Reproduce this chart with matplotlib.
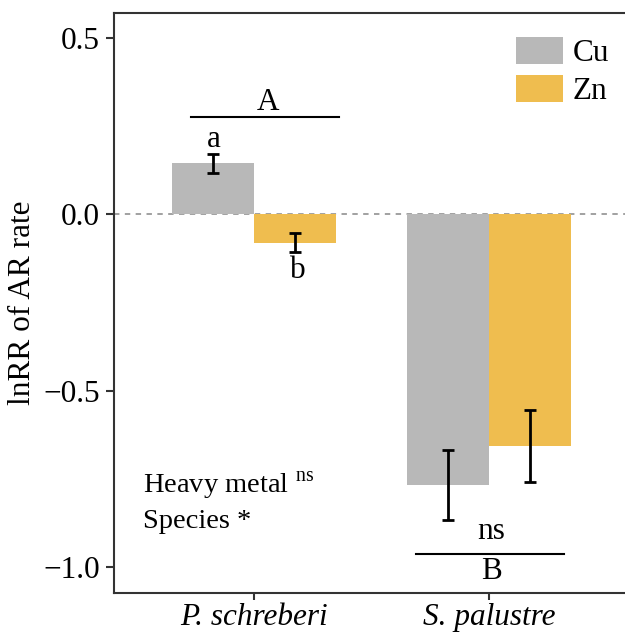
import matplotlib
matplotlib.use("Agg")
import matplotlib.pyplot as plt
import numpy as np

plt.rcParams['font.family'] = ['Liberation Serif', 'DejaVu Serif']
plt.rcParams['mathtext.fontset'] = 'custom'
plt.rcParams['mathtext.rm'] = 'Liberation Serif'
plt.rcParams['axes.unicode_minus'] = True

especies = ['P. schreberi', 'S. palustre']
metales = ['Cu', 'Zn']
media_cu = [0.145, -0.768]
error_cu = [0.027, 0.100]
media_zn = [-0.080, -0.657]
error_zn = [0.028, 0.103]
colores = {'Cu': '#b8b8b8', 'Zn': '#efbd4f'}

ancho = 0.35
x = np.arange(1, len(especies) + 1)
tam = 22.5

fig = plt.figure(figsize=(6.25, 6.34), dpi=100)
ax = fig.add_axes([114 / 625, 41 / 634, 515 / 625, 580 / 634])

ax.axhline(0, color='#9a9a9a', linestyle=(0, (3, 3)), linewidth=1.3, zorder=1)

barras_cu = ax.bar(x - ancho / 2, media_cu, ancho, color=colores['Cu'], label='Cu', zorder=2)
barras_zn = ax.bar(x + ancho / 2, media_zn, ancho, color=colores['Zn'], label='Zn', zorder=2)
ax.errorbar(x - ancho / 2, media_cu, yerr=error_cu, fmt='none', ecolor='black',
            elinewidth=2.0, capsize=4, capthick=2.0, zorder=3)
ax.errorbar(x + ancho / 2, media_zn, yerr=error_zn, fmt='none', ecolor='black',
            elinewidth=2.0, capsize=4, capthick=2.0, zorder=3)

# letras de significancia
ax.text(0.83, 0.192, 'a', ha='center', va='baseline', fontsize=tam)
ax.text(1.187, -0.18, 'b', ha='center', va='baseline', fontsize=tam)
ax.plot([0.732, 1.36], [0.276, 0.276], color='black', linewidth=1.5)
ax.text(1.06, 0.296, 'A', ha='center', va='baseline', fontsize=tam)
ax.plot([1.69, 2.32], [-0.963, -0.963], color='black', linewidth=1.5)
ax.text(2.01, -0.922, 'ns', ha='center', va='baseline', fontsize=tam)
ax.text(2.01, -1.036, 'B', ha='center', va='baseline', fontsize=tam)

ax.text(0.528, -0.792, r'Heavy metal $^{\mathrm{ns}}$', ha='left', va='baseline', fontsize=20.5)
ax.text(0.528, -0.891, 'Species *', ha='left', va='baseline', fontsize=20.5)

ax.set_xlim(0.404, 2.596)
ax.set_ylim(-1.075, 0.572)
ax.set_xticks(x)
ax.set_xticklabels(especies, fontstyle='italic', fontsize=22.5)
ax.set_yticks([0.5, 0.0, -0.5, -1.0])
ax.set_yticklabels(['0.5', '0.0', '\u22120.5', '\u22121.0'], fontsize=tam)
ax.set_ylabel('lnRR of AR rate', fontsize=tam, labelpad=5)

for lado in ax.spines.values():
    lado.set_linewidth(1.5)
    lado.set_color('#333333')
ax.tick_params(axis='both', length=6, width=1.5, color='#333333', pad=4, labelcolor='black')
ax.tick_params(axis='x', length=5, pad=2)

ax.legend(handles=[barras_cu, barras_zn], loc='upper left', bbox_to_anchor=(0.78, 0.9586),
          frameon=False, fontsize=tam, borderpad=0, borderaxespad=0, handlelength=1.5,
          handleheight=0.95, labelspacing=0.22, handletextpad=0.32)

plt.savefig('out.png', dpi=100)
